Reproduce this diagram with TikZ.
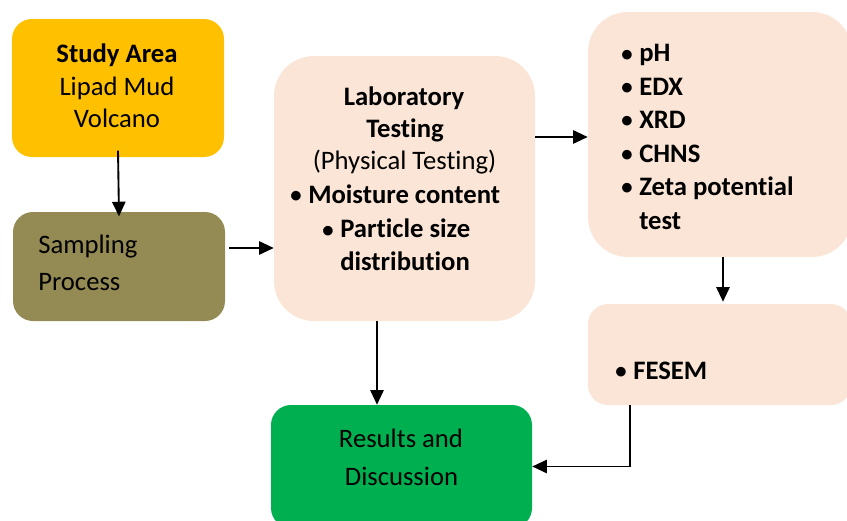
\documentclass[tikz,border=0pt]{standalone}
\usepackage{fontspec}
\setmainfont{Carlito}[Ligatures={NoCommon}]
\usetikzlibrary{arrows.meta}
\definecolor{cStudy}{HTML}{FFC000}
\definecolor{cSamp}{HTML}{948A54}
\definecolor{cLab}{HTML}{FBE5D6}
\definecolor{cRes}{HTML}{00B050}
\tikzset{
  box/.style={rectangle, draw=none, inner sep=0pt},
  txt/.style={font=\fontsize{20}{24}\selectfont, inner sep=0pt, anchor=base},
  txtl/.style={txt, anchor=base west},
  btxt/.style={txt, font=\fontsize{20}{24}\selectfont\bfseries},
  btxtl/.style={btxt, anchor=base west},
  arr/.style={line width=1.4pt, -{Triangle[length=11pt,width=10pt]}},
  con/.style={line width=1.4pt}
}
\newcommand{\bul}{\makebox[13.5pt][l]{\raisebox{0.5pt}{\scalebox{0.85}{•}}}}
\begin{document}
\begin{tikzpicture}[x=0.75pt,y=-0.75pt]
\path[use as bounding box] (0,0) rectangle (847,521);
\clip (0,0) rectangle (847,521);
% boxes
\node[box, fill=cStudy, rounded corners=15pt, minimum width=159pt, minimum height=103.5pt] (study) at (118,88) {};
\node[box, fill=cSamp, rounded corners=15pt, minimum width=159pt, minimum height=81.75pt] (samp) at (119,266.5) {};
\node[box, fill=cLab, rounded corners=30pt, minimum width=195.75pt, minimum height=198.75pt] (lab) at (404.5,188.5) {};
\node[box, fill=cLab, rounded corners=30pt, minimum width=198pt, minimum height=183.75pt] (rt) at (720,134.5) {};
\node[box, fill=cLab, rounded corners=15pt, minimum width=197.25pt, minimum height=75.75pt] (fes) at (719.5,354.5) {};
\node[box, fill=cRes, rounded corners=15pt, minimum width=195.75pt, minimum height=92.25pt] (res) at (401.5,466.5) {};
% texts
\node[btxt] (t1) at (117,62.7) {Study Area};
\node[txt] (t2) at (117,95) {Lipad Mud};
\node[txt] (t3) at (117,127) {Volcano};
\node[txtl] (s1) at (38,253) {Sampling};
\node[txtl] (s2) at (38,290) {Process};
\node[btxt] (l1) at (404,105) {Laboratory};
\node[btxt] (l2) at (405,137.7) {Testing};
\node[txt] (l3) at (404.5,169) {(Physical Testing)};
\node[btxtl] (l4) at (290,203) {\bul Moisture content};
\node[btxtl] (l5) at (322,237.7) {\bul Particle size};
\node[btxtl] (l6) at (340,270.7) {distribution};
\node[btxtl] (r1) at (621,61.7) {\bul pH};
\node[btxtl] (r2) at (621,95) {\bul EDX};
\node[btxtl] (r3) at (621,128) {\bul XRD};
\node[btxtl] (r4) at (621,162) {\bul CHNS};
\node[btxtl] (r5) at (621,195) {\bul Zeta potential};
\node[btxtl] (r6) at (639,229) {test};
\node[btxtl] (f1) at (615,379) {\bul FESEM};
\node[txt] (d1) at (401,447.7) {Results and};
\node[txt] (d2) at (401.5,485) {Discussion};
% connectors
\draw[arr] ([yshift=5pt]study.south) -- ([yshift=-3.5pt]samp.north);
\draw[arr] ([xshift=3pt]samp.east |- 0,248) -- (lab.west |- 0,248);
\draw[arr] (lab.east |- 0,137) -- (rt.west |- 0,137);
\draw[arr] (723,0 |- rt.south) -- ([yshift=1.5pt]723,0 |- fes.north);
\draw[arr] (377,0 |- lab.south) -- (377,0 |- res.north);
\draw[arr] (630,0 |- fes.south) |- (res.east);
\end{tikzpicture}
\end{document}
